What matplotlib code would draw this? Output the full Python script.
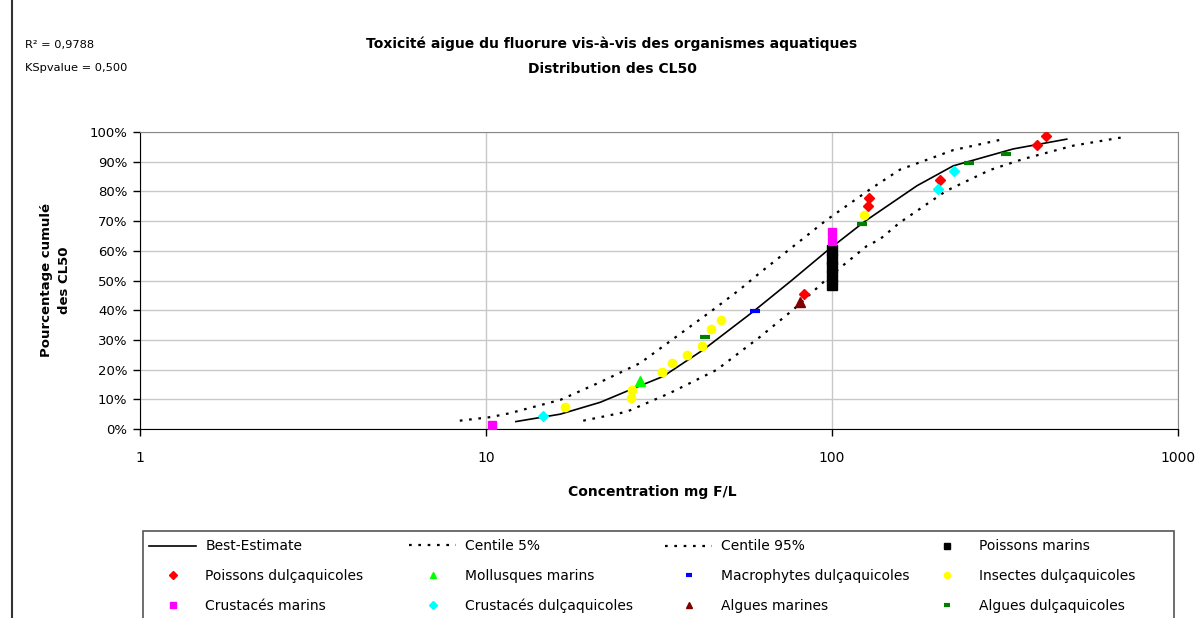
import matplotlib
matplotlib.use('Agg')
import matplotlib.pyplot as plt
from matplotlib.lines import Line2D
from matplotlib.patches import Rectangle

# curves (x in mg F/L, y in %)
best_x = [12.2, 16.4, 21.4, 26.1, 32.5, 42.5, 59.3, 76.4, 96.8, 124.7, 137.6, 176, 224, 334, 477]
best_y = [2.5, 5.0, 9.0, 13.2, 17.7, 26.7, 39.6, 50.0, 60.0, 70.0, 73.4, 81.9, 88.6, 94.3, 97.6]
c5_x = [8.4, 10.3, 11.7, 16.4, 21.4, 27.9, 35.6, 45.4, 54.2, 61.9, 77.3, 96.5, 128.8, 157, 224, 313]
c5_y = [2.8, 4.0, 5.3, 9.8, 15.8, 22.2, 31.2, 40.2, 47.0, 52.6, 61.5, 70.4, 80.7, 87.3, 93.9, 97.6]
c95_x = [19.1, 25.5, 34.0, 46.4, 61.9, 77.3, 98.7, 126, 137.6, 157, 214, 286, 357, 498, 690]
c95_y = [2.8, 5.8, 12.1, 19.9, 31.0, 40.2, 51.5, 61.6, 63.9, 69.5, 80.2, 87.2, 90.9, 95.4, 98.2]

# data points per group
pm_x = [100, 100, 100, 100, 100]
pm_y = [48.5, 51.5, 54.4, 57.4, 60.3]
pd_x = [83, 127, 128, 205, 391, 415]
pd_y = [45.6, 75.0, 77.9, 83.8, 95.6, 98.5]
mm_x = [27.8]
mm_y = [16.2]
md_x = [59.9]
md_y = [39.7]
id_x = [16.9, 26.2, 26.4, 32.2, 34.5, 38.2, 42.2, 44.8, 47.9, 123.7]
id_y = [7.4, 10.3, 13.2, 19.1, 22.1, 25.0, 27.9, 33.8, 36.8, 72.1]
cm_x = [10.4, 100, 100]
cm_y = [1.5, 63.2, 66.2]
cd_x = [14.6, 202, 225]
cd_y = [4.4, 80.9, 86.8]
am_x = [80.8]
am_y = [42.6]
ad_x = [43.0, 122, 249, 318]
ad_y = [30.9, 69.1, 89.7, 92.6]

xticks = [1, 10, 100, 1000]
xtick_labels = ['1', '10', '100', '1000']
yticks = [0, 10, 20, 30, 40, 50, 60, 70, 80, 90, 100]
ytick_labels = ['0%', '10%', '20%', '30%', '40%', '50%', '60%', '70%', '80%', '90%', '100%']

W, H = 1199, 618
fig = plt.figure(figsize=(W/100, H/100), dpi=100)
ax = fig.add_axes([140/W, 1-429/H, (1178-140)/W, (429-132)/H])

dot = (0, (1.2, 3.0))
l_best, = ax.plot(best_x, best_y, color='black', lw=1.2, label='Best-Estimate', zorder=3)
l_c5, = ax.plot(c5_x, c5_y, color='black', lw=1.6, ls=dot, label='Centile 5%', zorder=3)
l_c95, = ax.plot(c95_x, c95_y, color='black', lw=1.6, ls=dot, label='Centile 95%', zorder=3)

kw = dict(ls='none', zorder=4)
h_pm, = ax.plot(pm_x, pm_y, marker='s', ms=6.5, color='black', mec='black', label='Poissons marins', **kw)
h_pd, = ax.plot(pd_x, pd_y, marker='D', ms=5, color='#ff0000', mec='#ff0000', label='Poissons dulçaquicoles', **kw)
h_mm, = ax.plot(mm_x, mm_y, marker='^', ms=6.5, color='#00ff00', mec='#00ff00', label='Mollusques marins', **kw)
h_md, = ax.plot(md_x, md_y, marker='_', ms=6.5, mew=3, color='#0000ff', label='Macrophytes dulçaquicoles', **kw)
h_id, = ax.plot(id_x, id_y, marker='o', ms=6, color='#ffff00', mec='#ffff00', label='Insectes dulçaquicoles', **kw)
h_cm, = ax.plot(cm_x, cm_y, marker='s', ms=6, color='#ff00ff', mec='#ff00ff', label='Crustacés marins', **kw)
h_cd, = ax.plot(cd_x, cd_y, marker='D', ms=5, color='#00ffff', mec='#00ffff', label='Crustacés dulçaquicoles', **kw)
h_am, = ax.plot(am_x, am_y, marker='^', ms=6.5, color='#800000', mec='#800000', label='Algues marines', **kw)
h_ad, = ax.plot(ad_x, ad_y, marker='_', ms=6.5, mew=3, color='#008000', label='Algues dulçaquicoles', **kw)

ax.set_xscale('log')
ax.set_xlim(1, 1000)
ax.set_ylim(0, 100)
ax.set_xticks(xticks)
ax.set_xticklabels(xtick_labels, fontsize=10)
ax.minorticks_off()
ax.set_yticks(yticks)
ax.set_yticklabels(ytick_labels, fontsize=9.5)
ax.tick_params(axis='both', direction='out', length=5, width=1, color='black')
ax.tick_params(axis='x', pad=11)
ax.tick_params(axis='y', pad=4)

ax.grid(which='major', axis='y', color='#c8c8c8', lw=1)
ax.grid(which='major', axis='x', color='#c8c8c8', lw=1)
ax.set_axisbelow(True)
ax.spines['left'].set_color('black')
ax.spines['bottom'].set_color('black')
ax.spines['top'].set_color('#888888')
ax.spines['right'].set_color('#888888')

# titles and labels
fig.text(612/W, 1-44/H, 'Toxicité aigue du fluorure vis-à-vis des organismes aquatiques',
         ha='center', va='center', fontsize=10, fontweight='bold')
fig.text(612/W, 1-69/H, 'Distribution des CL50', ha='center', va='center',
         fontsize=10, fontweight='bold')
fig.text(25/W, 1-45/H, 'R² = 0,9788', ha='left', va='center', fontsize=8.2)
fig.text(25/W, 1-68/H, 'KSpvalue = 0,500', ha='left', va='center', fontsize=8.2)
fig.text(56/W, 1-280/H, 'Pourcentage cumulé\ndes CL50', ha='center', va='center',
         rotation=90, fontsize=9.5, fontweight='bold', linespacing=1.5)
fig.text(652/W, 1-492/H, 'Concentration mg F/L', ha='center', va='center',
         fontsize=10, fontweight='bold')

# left frame edge of the chart area
fig.add_artist(Line2D([11.5/W, 11.5/W], [0, 1], color='#333333', lw=1.5))

# legend: one block per column, placed like the original, inside one frame
fig.add_artist(Rectangle((143/W, -0.1), (1174-143)/W, 1-531/H+0.1, transform=fig.transFigure,
                         fill=False, edgecolor='#555555', lw=1.2))
columns = [[l_best, h_pd, h_cm], [l_c5, h_mm, h_cd], [l_c95, h_md, h_am], [h_pm, h_id, h_ad]]
col_left = [149, 409, 665, 923]
for hs, x0 in zip(columns, col_left):
    fig.legend(handles=hs, labels=[h.get_label() for h in hs], loc='center left',
               bbox_to_anchor=(x0/W, 1-576/H), frameon=False, fontsize=10,
               handlelength=3.4, handletextpad=0.65, labelspacing=1.12,
               borderpad=0, borderaxespad=0, markerscale=0.75)

fig.savefig('out.png', dpi=100)
